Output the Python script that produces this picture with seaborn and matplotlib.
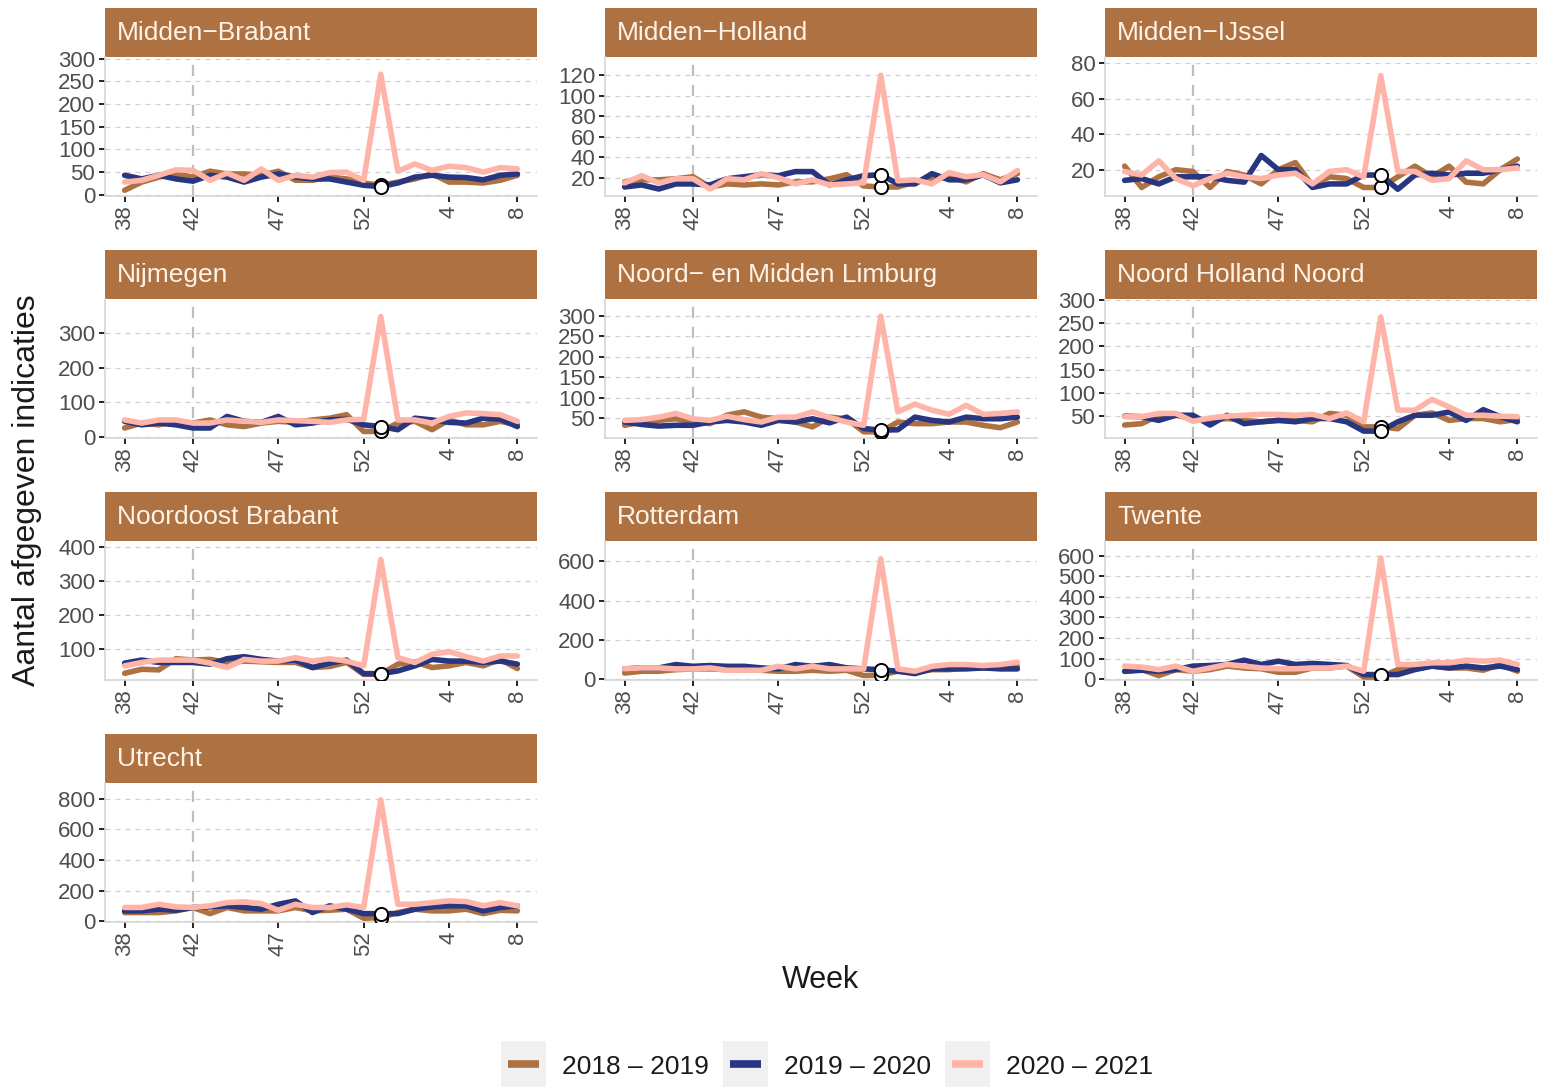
import matplotlib
matplotlib.use("Agg")
import matplotlib.pyplot as plt
from matplotlib.lines import Line2D
from matplotlib.patches import Rectangle
from matplotlib.legend_handler import HandlerTuple, HandlerLine2D
from matplotlib.ticker import MultipleLocator
import pandas as pd
import seaborn as sns

# weeks of the season, week 53 only exists in 2020-2021
weeks = [38, 39, 40, 41, 42, 43, 44, 45, 46, 47, 48, 49, 50, 51, 52, 53,
         1, 2, 3, 4, 5, 6, 7, 8]
tick_weeks = [38, 42, 47, 52, 4, 8]

regions = ["Midden\u2212Brabant", "Midden\u2212Holland", "Midden\u2212IJssel",
           "Nijmegen", "Noord\u2212 en Midden Limburg", "Noord Holland Noord",
           "Noordoost Brabant", "Rotterdam", "Twente", "Utrecht"]
seasons = ["2018 \u2013 2019", "2019 \u2013 2020", "2020 \u2013 2021"]

s1819 = {
    "Midden\u2212Brabant": [10, 28, 39, 46, 39, 52, 46, 46, 43, 52, 32, 32, 39, 35, 26, 21, 28, 35, 46, 28, 28, 26, 32, 43],
    "Midden\u2212Holland": [16, 18, 18, 19, 21, 11, 14, 13, 14, 13, 16, 16, 19, 23, 12, 11, 11, 16, 18, 21, 16, 24, 18, 24],
    "Midden\u2212IJssel": [22, 10, 16, 20, 19, 10, 19, 17, 12, 20, 24, 11, 16, 15, 10, 10, 16, 22, 16, 22, 13, 12, 20, 26],
    "Nijmegen": [27, 41, 36, 46, 41, 50, 36, 31, 41, 46, 43, 50, 55, 65, 17, 17, 41, 46, 22, 50, 36, 36, 46, 36],
    "Noord\u2212 en Midden Limburg": [32, 40, 44, 48, 40, 36, 57, 65, 52, 48, 40, 28, 52, 48, 16, 16, 40, 36, 36, 40, 40, 32, 26, 40],
    "Noord Holland Noord": [31, 34, 52, 52, 45, 41, 45, 41, 38, 41, 41, 38, 56, 52, 27, 27, 23, 52, 57, 41, 45, 45, 38, 43],
    "Noordoost Brabant": [27, 39, 37, 70, 66, 68, 59, 63, 61, 59, 59, 44, 47, 59, 24, 24, 54, 61, 44, 49, 59, 49, 68, 41],
    "Rotterdam": [32, 41, 41, 49, 53, 53, 49, 53, 46, 41, 41, 46, 41, 46, 19, 22, 41, 36, 49, 49, 58, 58, 58, 66],
    "Twente": [39, 47, 18, 47, 39, 47, 64, 55, 51, 34, 34, 55, 55, 64, 11, 11, 47, 51, 64, 55, 55, 44, 72, 39],
    "Utrecht": [57, 57, 57, 68, 90, 50, 90, 68, 68, 68, 90, 68, 72, 79, 20, 24, 57, 79, 68, 68, 79, 50, 72, 68],
}
s1920 = {
    "Midden\u2212Brabant": [43, 35, 43, 35, 30, 43, 39, 28, 39, 46, 39, 35, 35, 28, 21, 18, 26, 39, 43, 39, 38, 33, 43, 46],
    "Midden\u2212Holland": [11, 13, 9, 14, 14, 13, 19, 21, 23, 22, 26, 26, 13, 18, 22, 23, 14, 14, 24, 18, 18, 23, 15, 18],
    "Midden\u2212IJssel": [14, 15, 12, 16, 16, 16, 14, 13, 28, 20, 20, 10, 12, 12, 17, 17, 9, 17, 18, 17, 18, 18, 20, 22],
    "Nijmegen": [46, 36, 41, 36, 27, 27, 60, 46, 43, 60, 36, 41, 50, 52, 36, 31, 22, 55, 50, 43, 41, 55, 52, 31],
    "Noord\u2212 en Midden Limburg": [40, 34, 30, 32, 32, 40, 44, 40, 32, 44, 40, 48, 38, 52, 24, 20, 21, 52, 44, 40, 52, 48, 48, 52],
    "Noord Holland Noord": [50, 49, 41, 52, 52, 31, 52, 34, 38, 41, 38, 45, 45, 38, 18, 18, 38, 52, 52, 59, 41, 64, 49, 38],
    "Noordoost Brabant": [57, 66, 59, 59, 59, 54, 70, 76, 68, 63, 66, 44, 57, 66, 26, 26, 34, 49, 68, 63, 63, 59, 63, 54],
    "Rotterdam": [53, 58, 58, 75, 66, 70, 66, 66, 58, 53, 75, 66, 75, 58, 53, 49, 41, 29, 53, 53, 53, 58, 53, 53],
    "Twente": [39, 44, 39, 47, 64, 67, 72, 93, 72, 88, 72, 77, 72, 67, 23, 23, 23, 47, 64, 55, 64, 55, 64, 47],
    "Utrecht": [68, 68, 79, 72, 90, 94, 101, 90, 79, 111, 133, 57, 101, 79, 50, 50, 50, 79, 94, 101, 101, 68, 90, 101],
}
s2021 = {
    "Midden\u2212Brabant": [28, 32, 43, 55, 54, 32, 48, 32, 57, 32, 43, 39, 49, 50, 32, 266, 52, 68, 54, 63, 60, 50, 60, 57],
    "Midden\u2212Holland": [15, 22, 15, 19, 19, 9, 19, 18, 24, 20, 14, 18, 13, 14, 15, 120, 17, 18, 14, 25, 21, 23, 16, 27],
    "Midden\u2212IJssel": [19, 17, 25, 15, 11, 15, 18, 16, 15, 17, 18, 12, 19, 20, 16, 73, 19, 19, 14, 15, 25, 20, 20, 21],
    "Nijmegen": [50, 41, 50, 50, 41, 41, 50, 46, 43, 50, 48, 46, 43, 50, 52, 346, 50, 50, 41, 60, 70, 68, 65, 46],
    "Noord\u2212 en Midden Limburg": [44, 46, 52, 61, 48, 44, 54, 46, 40, 52, 52, 65, 51, 40, 32, 300, 65, 84, 69, 59, 81, 59, 61, 65],
    "Noord Holland Noord": [49, 49, 56, 56, 39, 46, 50, 52, 54, 54, 52, 54, 45, 57, 38, 263, 63, 63, 86, 70, 52, 52, 50, 49],
    "Noordoost Brabant": [49, 59, 66, 66, 66, 57, 44, 68, 63, 63, 73, 63, 70, 63, 49, 362, 73, 59, 83, 91, 76, 63, 78, 78],
    "Rotterdam": [53, 58, 58, 53, 53, 58, 46, 46, 46, 66, 53, 66, 53, 53, 53, 612, 53, 41, 66, 75, 75, 70, 75, 87],
    "Twente": [64, 59, 47, 64, 39, 55, 72, 64, 55, 51, 51, 55, 55, 64, 39, 589, 72, 72, 80, 80, 93, 88, 93, 72],
    "Utrecht": [90, 90, 111, 94, 90, 101, 122, 127, 116, 72, 111, 90, 90, 107, 90, 793, 111, 111, 122, 133, 129, 101, 122, 101],
}

# free y scales per panel, as in the original
y_limits = {
    "Midden\u2212Brabant": (-2.7, 304), "Midden\u2212Holland": (2.2, 137.8),
    "Midden\u2212IJssel": (5.2, 83.4), "Nijmegen": (-1.7, 396),
    "Noord\u2212 en Midden Limburg": (0.8, 341.8), "Noord Holland Noord": (3.2, 301.5),
    "Noordoost Brabant": (7.3, 416.6), "Rotterdam": (-3.4, 702),
    "Twente": (-3.4, 671), "Utrecht": (-4.6, 902),
}
y_steps = {
    "Midden\u2212Brabant": 50, "Midden\u2212Holland": 20, "Midden\u2212IJssel": 20,
    "Nijmegen": 100, "Noord\u2212 en Midden Limburg": 50, "Noord Holland Noord": 50,
    "Noordoost Brabant": 100, "Rotterdam": 200, "Twente": 100, "Utrecht": 200,
}

BROWN = "#AD7142"
NAVY = "#283580"
PINK = "#FFB4A8"
palette = dict(zip(seasons, [BROWN, NAVY, PINK]))

rows = []
for r in regions:
    for s, src in zip(seasons, [s1819, s1920, s2021]):
        for i, (w, v) in enumerate(zip(weeks, src[r])):
            rows.append({"region": r, "season": s, "pos": i, "week": w, "value": v})
df = pd.DataFrame(rows)

sns.set_style("white")
plt.rcParams["font.family"] = ["Liberation Sans", "DejaVu Sans"]

W, H = 1541, 1088
fig = plt.figure(figsize=(W / 100, H / 100), dpi=100)

col_x = [105, 605, 1105]
row_y = [57, 299, 541, 783]
pw, ph, strip_h = 432, 139, 49

pos53 = weeks.index(53)
pos42 = weeks.index(42)
tick_pos = [weeks.index(w) for w in tick_weeks]

for k, r in enumerate(regions):
    rr, cc = divmod(k, 3)
    ax = fig.add_axes([col_x[cc] / W, 1 - (row_y[rr] + ph) / H, pw / W, ph / H])
    sub = df[df.region == r]
    lo, hi = y_limits[r]
    ax.set_ylim(lo, hi)
    ax.set_xlim(-1.15, len(weeks) - 1 + 1.15)
    ax.yaxis.set_major_locator(MultipleLocator(y_steps[r]))
    ax.grid(axis="y", color="#D0D0D0", linestyle=(0, (4, 4)), linewidth=0.9)
    ax.grid(axis="x", visible=False)
    ax.set_axisbelow(True)
    ax.axvline(pos42, color="#BEBEBE", linestyle=(0, (5, 4)), linewidth=1.6, zorder=1)

    sns.lineplot(data=sub, x="pos", y="value", hue="season", hue_order=seasons,
                 palette=palette, linewidth=4.0, legend=False, errorbar=None,
                 ax=ax, zorder=3)

    pts = sub[(sub.pos == pos53) & (sub.season != seasons[2])]
    sns.scatterplot(data=pts, x="pos", y="value", s=90, color="white",
                    edgecolor="black", linewidth=1.4, ax=ax, zorder=5, legend=False)

    ax.set_xticks(tick_pos)
    ax.set_xticklabels([str(w) for w in tick_weeks], rotation=90)
    ax.tick_params(axis="both", direction="out", length=4, width=1.2,
                   color="black", labelsize=16, labelcolor="#4D4D4D", pad=3,
                   bottom=True, left=True)
    ax.set_xlabel("")
    ax.set_ylabel("")
    for side in ["top", "right"]:
        ax.spines[side].set_visible(False)
    for side in ["left", "bottom"]:
        ax.spines[side].set_color("#D6D6D6")
        ax.spines[side].set_linewidth(1.2)

    ax.add_patch(Rectangle((0, 1), 1, strip_h / ph, transform=ax.transAxes,
                           facecolor=BROWN, edgecolor="none", clip_on=False))
    ax.text(12 / pw, 1 + (strip_h / 2) / ph, r, transform=ax.transAxes,
            ha="left", va="center", fontsize=19, color="#FFF3E8")

fig.text(27 / W, 1 - 490 / H, "Aantal afgegeven indicaties", rotation=90,
         ha="center", va="center", fontsize=23, color="#1A1A1A")
fig.text(820 / W, 1 - 980 / H, "Week", ha="center", va="center",
         fontsize=22, color="#1A1A1A")

# legend keys: grey square (a thick butt-capped line) with the coloured line on top
handles = []
hmap = {}
for c in [BROWN, NAVY, PINK]:
    bg = Line2D([], [], color="#F0F0F0", linewidth=33, solid_capstyle="butt")
    fg = Line2D([], [], color=c, linewidth=5.5, solid_capstyle="butt")
    hmap[bg] = HandlerLine2D(marker_pad=0)
    hmap[fg] = HandlerLine2D(numpoints=2, marker_pad=0.27)
    handles.append((bg, fg))
hmap[tuple] = HandlerTuple(ndivide=1, pad=0)
fig.legend(handles, seasons, handler_map=hmap,
           loc="center", bbox_to_anchor=(827 / W, 1 - 1066 / H), ncol=3,
           frameon=False, fontsize=19, handlelength=1.7, handleheight=1.0,
           handletextpad=0.6, columnspacing=0.55, labelcolor="#1A1A1A")

fig.savefig("out.png", dpi=100)
